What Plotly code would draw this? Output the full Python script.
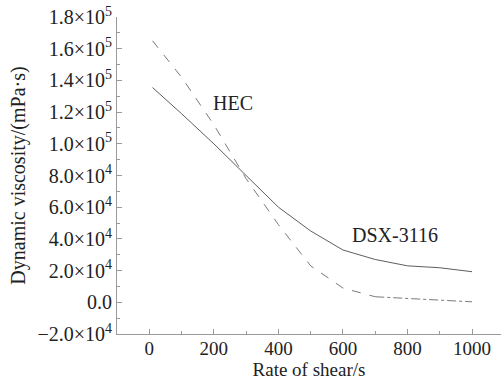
import plotly.graph_objects as go

shear_rate = [10, 100, 200, 300, 400, 500, 600, 700, 800, 900, 1000]
dsx_3116 = [135500, 119000, 100000, 80000, 60000, 45000, 33000, 27000, 23000, 21800, 19300]
hec = [165000, 142000, 112000, 78000, 49000, 23000, 9000, 3500, 2500, 1300, 300]

y_tickvals = [-20000, 0, 20000, 40000, 60000, 80000, 100000, 120000, 140000, 160000, 180000]
y_ticktext = ["\u22122.0\u00d710<sup>4</sup>", "0.0", "2.0\u00d710<sup>4</sup>", "4.0\u00d710<sup>4</sup>",
              "6.0\u00d710<sup>4</sup>", "8.0\u00d710<sup>4</sup>", "1.0\u00d710<sup>5</sup>",
              "1.2\u00d710<sup>5</sup>", "1.4\u00d710<sup>5</sup>", "1.6\u00d710<sup>5</sup>",
              "1.8\u00d710<sup>5</sup>"]
x_tickvals = [0, 200, 400, 600, 800, 1000]

FONT = "Liberation Serif"
FS = 20
LINE = "#5e5e5e"
AX = "#9a9a9a"

fig = go.Figure()
fig.add_trace(go.Scatter(x=shear_rate, y=dsx_3116, mode="lines",
                         line=dict(color=LINE, width=1), showlegend=False))
split = shear_rate.index(700)
fig.add_trace(go.Scatter(x=shear_rate[:split + 1], y=hec[:split + 1], mode="lines",
                         line=dict(color="#7a7a7a", width=1, dash="dash"), showlegend=False))
fig.add_trace(go.Scatter(x=shear_rate[split:], y=hec[split:], mode="lines",
                         line=dict(color="#7a7a7a", width=1, dash="dashdot"), showlegend=False))

fig.add_annotation(x=258, y=126000, text="HEC", showarrow=False,
                   font=dict(family=FONT, size=FS, color="#222"))
fig.add_annotation(x=760, y=42500, text="DSX-3116", showarrow=False,
                   font=dict(family=FONT, size=FS, color="#222"))

fig.update_layout(
    width=501, height=381,
    margin=dict(l=117, r=0, t=17, b=47, autoexpand=False),
    paper_bgcolor="white", plot_bgcolor="white",
    font=dict(family=FONT, size=FS, color="#222"),
    xaxis=dict(range=[-100, 1089.6], tickmode="array", tickvals=x_tickvals,
               ticks="inside", ticklen=5, tickcolor=AX, showline=True, linecolor=AX,
               linewidth=1, showgrid=False, zeroline=False, automargin=False,
               ticklabelstandoff=-3,
               minor=dict(ticks="inside", ticklen=3, dtick=100, tick0=0, tickcolor=AX),
               title=dict(text="Rate of shear/s", standoff=2,
                          font=dict(family=FONT, size=19)),
               tickfont=dict(family=FONT, size=19)),
    yaxis=dict(range=[-20000, 180000], tickmode="array", tickvals=y_tickvals,
               ticktext=y_ticktext, ticks="inside", ticklen=5, tickcolor=AX,
               showline=True, linecolor=AX, linewidth=1, showgrid=False, zeroline=False,
               automargin=False,
               minor=dict(ticks="inside", ticklen=3, dtick=10000, tick0=0, tickcolor=AX),
               title=dict(text="Dynamic viscosity/(mPa\u00b7s)", standoff=6,
                          font=dict(family=FONT, size=FS)),
               tickfont=dict(family=FONT, size=FS)),
)

fig.write_html("out.html", config={"displayModeBar": False},
               post_script="document.body.style.margin='0';")
